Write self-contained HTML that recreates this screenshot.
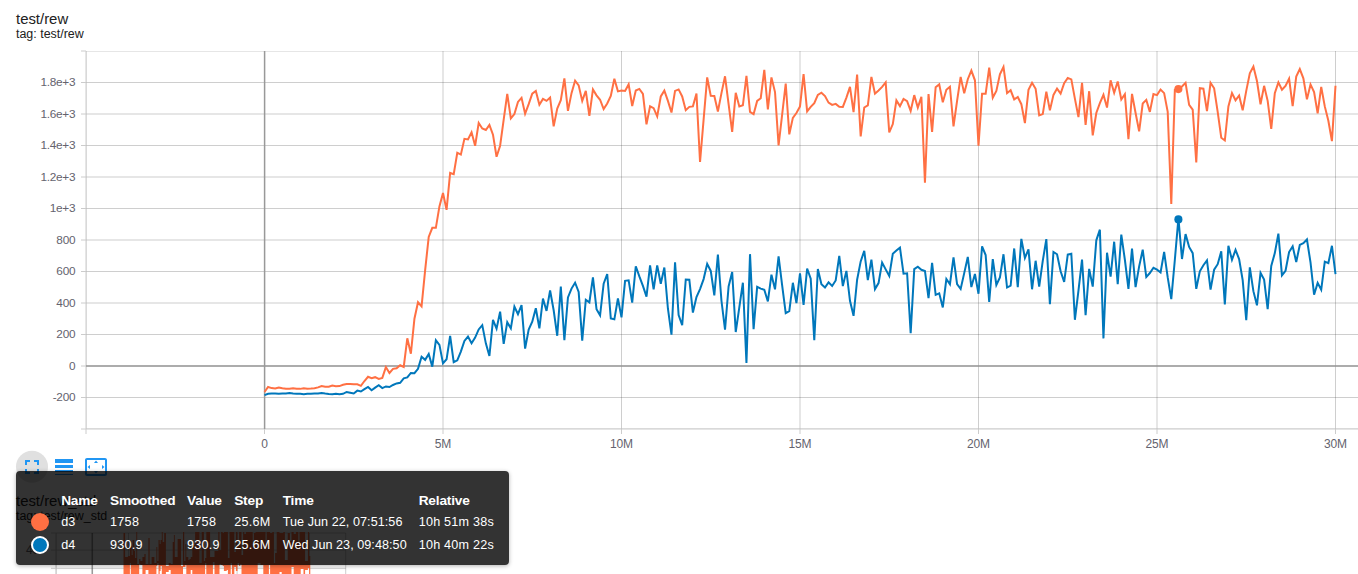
<!DOCTYPE html>
<html><head><meta charset="utf-8"><title>TensorBoard</title>
<style>
html,body{margin:0;padding:0;background:#fff;}
body{width:1358px;height:574px;overflow:hidden;position:relative;font-family:"Liberation Sans",sans-serif;}
.abs{position:absolute;}
.title{position:absolute;left:16px;font-size:14.9px;color:#212121;line-height:18px;white-space:nowrap;}
.tag{position:absolute;left:16px;font-size:12.45px;color:#212121;line-height:14px;white-space:nowrap;}
.yl{position:absolute;left:0;width:75.3px;text-align:right;font-size:11.8px;line-height:16px;color:#64636e;white-space:nowrap;letter-spacing:-0.25px;}
.xl{position:absolute;top:436px;width:60px;text-align:center;font-size:12px;line-height:16px;color:#64636e;white-space:nowrap;letter-spacing:-0.1px;}
svg{position:absolute;left:0;top:0;}
#tip{position:absolute;left:16px;top:471px;width:492.5px;height:93.5px;background:rgba(0,0,0,0.8);border-radius:4px;box-shadow:0 1px 4px rgba(0,0,0,0.3);color:#fff;}
#tip div{position:absolute;white-space:nowrap;line-height:16px;}
#tip .h{font-weight:bold;font-size:13.7px;letter-spacing:-0.2px;top:21.5px;}
#tip .r1{font-size:12.6px;top:42.5px;}
#tip .r2{font-size:12.6px;top:65.8px;}
.sw{position:absolute;width:18px;height:18px;border-radius:50%;box-sizing:border-box;}
</style></head><body>
<div class="title" style="top:9.6px">test/rew</div>
<div class="tag" style="top:26.7px">tag: test/rew</div>
<div class="yl" style="top:74.0px">1.8e+3</div>
<div class="yl" style="top:105.5px">1.6e+3</div>
<div class="yl" style="top:137.0px">1.4e+3</div>
<div class="yl" style="top:168.5px">1.2e+3</div>
<div class="yl" style="top:200.0px">1e+3</div>
<div class="yl" style="top:231.5px">800</div>
<div class="yl" style="top:263.0px">600</div>
<div class="yl" style="top:294.5px">400</div>
<div class="yl" style="top:326.0px">200</div>
<div class="yl" style="top:357.5px">0</div>
<div class="yl" style="top:389.0px">-200</div>
<div class="xl" style="left:234.5px">0</div>
<div class="xl" style="left:413.0px">5M</div>
<div class="xl" style="left:591.5px">10M</div>
<div class="xl" style="left:770.0px">15M</div>
<div class="xl" style="left:948.5px">20M</div>
<div class="xl" style="left:1127.0px">25M</div>
<div class="xl" style="left:1305.5px">30M</div>
<svg width="1358" height="574" viewBox="0 0 1358 574">
<defs><clipPath id="c1"><rect x="86" y="51" width="1272" height="378"/></clipPath>
<clipPath id="c2"><rect x="51" y="532" width="296" height="42"/></clipPath></defs>
<line x1="81" x2="86" y1="429.00" y2="429.00" stroke="#cccccc" stroke-width="1"/>
<line x1="81" x2="86" y1="397.50" y2="397.50" stroke="#cccccc" stroke-width="1"/>
<line x1="81" x2="86" y1="366.00" y2="366.00" stroke="#cccccc" stroke-width="1"/>
<line x1="81" x2="86" y1="334.50" y2="334.50" stroke="#cccccc" stroke-width="1"/>
<line x1="81" x2="86" y1="303.00" y2="303.00" stroke="#cccccc" stroke-width="1"/>
<line x1="81" x2="86" y1="271.50" y2="271.50" stroke="#cccccc" stroke-width="1"/>
<line x1="81" x2="86" y1="240.00" y2="240.00" stroke="#cccccc" stroke-width="1"/>
<line x1="81" x2="86" y1="208.50" y2="208.50" stroke="#cccccc" stroke-width="1"/>
<line x1="81" x2="86" y1="177.00" y2="177.00" stroke="#cccccc" stroke-width="1"/>
<line x1="81" x2="86" y1="145.50" y2="145.50" stroke="#cccccc" stroke-width="1"/>
<line x1="81" x2="86" y1="114.00" y2="114.00" stroke="#cccccc" stroke-width="1"/>
<line x1="81" x2="86" y1="82.50" y2="82.50" stroke="#cccccc" stroke-width="1"/>
<line x1="81" x2="86" y1="51.00" y2="51.00" stroke="#cccccc" stroke-width="1"/>
<line x1="86.00" x2="86.00" y1="429" y2="434" stroke="#cccccc" stroke-width="1"/>
<line x1="264.50" x2="264.50" y1="429" y2="434" stroke="#cccccc" stroke-width="1"/>
<line x1="443.00" x2="443.00" y1="429" y2="434" stroke="#cccccc" stroke-width="1"/>
<line x1="621.50" x2="621.50" y1="429" y2="434" stroke="#cccccc" stroke-width="1"/>
<line x1="800.00" x2="800.00" y1="429" y2="434" stroke="#cccccc" stroke-width="1"/>
<line x1="978.50" x2="978.50" y1="429" y2="434" stroke="#cccccc" stroke-width="1"/>
<line x1="1157.00" x2="1157.00" y1="429" y2="434" stroke="#cccccc" stroke-width="1"/>
<line x1="1335.50" x2="1335.50" y1="429" y2="434" stroke="#cccccc" stroke-width="1"/>
<g clip-path="url(#c1)"><line x1="86" x2="1358" y1="429.00" y2="429.00" stroke="#3c3c3c" stroke-opacity="0.25" stroke-width="1"/><line x1="86" x2="1358" y1="397.50" y2="397.50" stroke="#3c3c3c" stroke-opacity="0.25" stroke-width="1"/><line x1="86" x2="1358" y1="366.00" y2="366.00" stroke="#3c3c3c" stroke-opacity="0.25" stroke-width="1"/><line x1="86" x2="1358" y1="334.50" y2="334.50" stroke="#3c3c3c" stroke-opacity="0.25" stroke-width="1"/><line x1="86" x2="1358" y1="303.00" y2="303.00" stroke="#3c3c3c" stroke-opacity="0.25" stroke-width="1"/><line x1="86" x2="1358" y1="271.50" y2="271.50" stroke="#3c3c3c" stroke-opacity="0.25" stroke-width="1"/><line x1="86" x2="1358" y1="240.00" y2="240.00" stroke="#3c3c3c" stroke-opacity="0.25" stroke-width="1"/><line x1="86" x2="1358" y1="208.50" y2="208.50" stroke="#3c3c3c" stroke-opacity="0.25" stroke-width="1"/><line x1="86" x2="1358" y1="177.00" y2="177.00" stroke="#3c3c3c" stroke-opacity="0.25" stroke-width="1"/><line x1="86" x2="1358" y1="145.50" y2="145.50" stroke="#3c3c3c" stroke-opacity="0.25" stroke-width="1"/><line x1="86" x2="1358" y1="114.00" y2="114.00" stroke="#3c3c3c" stroke-opacity="0.25" stroke-width="1"/><line x1="86" x2="1358" y1="82.50" y2="82.50" stroke="#3c3c3c" stroke-opacity="0.25" stroke-width="1"/><line x1="86" x2="1358" y1="51.00" y2="51.00" stroke="#3c3c3c" stroke-opacity="0.25" stroke-width="1"/><line x1="86.00" x2="86.00" y1="51" y2="429" stroke="#3c3c3c" stroke-opacity="0.25" stroke-width="1"/><line x1="264.50" x2="264.50" y1="51" y2="429" stroke="#3c3c3c" stroke-opacity="0.25" stroke-width="1"/><line x1="443.00" x2="443.00" y1="51" y2="429" stroke="#3c3c3c" stroke-opacity="0.25" stroke-width="1"/><line x1="621.50" x2="621.50" y1="51" y2="429" stroke="#3c3c3c" stroke-opacity="0.25" stroke-width="1"/><line x1="800.00" x2="800.00" y1="51" y2="429" stroke="#3c3c3c" stroke-opacity="0.25" stroke-width="1"/><line x1="978.50" x2="978.50" y1="51" y2="429" stroke="#3c3c3c" stroke-opacity="0.25" stroke-width="1"/><line x1="1157.00" x2="1157.00" y1="51" y2="429" stroke="#3c3c3c" stroke-opacity="0.25" stroke-width="1"/><line x1="1335.50" x2="1335.50" y1="51" y2="429" stroke="#3c3c3c" stroke-opacity="0.25" stroke-width="1"/></g>
<line x1="86" x2="86" y1="51" y2="429" stroke="#cccccc" stroke-width="1"/>
<line x1="86" x2="1358" y1="429" y2="429" stroke="#cccccc" stroke-width="1"/>
<line x1="86" x2="1358" y1="366.00" y2="366.00" stroke="#999999" stroke-width="1.5"/>
<line x1="264.60" x2="264.60" y1="51" y2="429" stroke="#999999" stroke-width="1.5"/>
<path d="M264.50,395.15 L268.07,393.82 L271.64,393.60 L275.21,393.48 L278.78,393.72 L282.35,393.60 L285.92,393.60 L289.49,393.05 L293.06,393.60 L296.63,393.82 L300.20,393.82 L303.77,394.16 L307.34,393.82 L310.91,393.82 L314.48,393.60 L318.05,393.60 L321.62,393.05 L325.19,393.60 L328.76,394.04 L332.33,394.16 L335.90,393.70 L339.47,394.16 L343.04,393.82 L346.61,391.96 L350.18,392.72 L353.75,393.46 L357.32,390.65 L360.89,391.47 L364.46,389.18 L368.03,386.99 L371.60,390.25 L375.17,387.64 L378.74,385.22 L382.31,388.11 L385.88,386.43 L389.45,387.06 L393.02,384.99 L396.59,383.44 L400.16,382.78 L403.73,378.36 L407.30,377.48 L410.87,372.96 L414.44,373.16 L418.01,368.86 L421.58,356.79 L425.15,359.86 L428.72,353.89 L432.29,366.61 L435.86,340.32 L439.43,344.93 L443.00,363.38 L446.57,359.28 L450.14,335.99 L453.71,362.21 L457.28,360.39 L460.85,351.55 L464.42,340.95 L467.99,336.62 L471.56,343.19 L475.13,337.64 L478.70,329.46 L482.27,325.17 L485.84,343.38 L489.41,356.02 L492.98,319.97 L496.55,328.71 L500.12,311.71 L503.69,343.92 L507.26,322.21 L510.83,328.32 L514.40,306.55 L517.97,314.16 L521.54,305.16 L525.11,348.57 L528.68,329.46 L532.25,321.73 L535.82,308.24 L539.39,328.45 L542.96,298.50 L546.53,310.93 L550.10,290.53 L553.67,310.25 L557.24,335.78 L560.81,286.66 L564.38,340.23 L567.95,297.43 L571.52,288.60 L575.09,282.75 L578.66,291.91 L582.23,340.67 L585.80,299.78 L589.37,302.42 L592.94,277.45 L596.51,309.14 L600.08,315.37 L603.65,283.74 L607.22,273.99 L610.79,318.42 L614.36,319.30 L617.93,298.48 L621.50,317.41 L625.07,280.87 L628.64,280.37 L632.21,302.62 L635.78,266.27 L639.35,276.45 L642.92,285.95 L646.49,296.57 L650.06,265.30 L653.63,289.35 L657.20,265.34 L660.77,283.77 L664.34,267.52 L667.91,308.48 L671.48,334.69 L675.05,262.35 L678.62,315.10 L682.19,325.29 L685.76,279.46 L689.33,279.76 L692.90,312.52 L696.47,296.99 L700.04,289.04 L703.61,279.10 L707.18,263.89 L710.75,270.93 L714.32,295.34 L717.89,254.64 L721.46,300.75 L725.03,329.60 L728.60,286.39 L732.17,271.94 L735.74,332.03 L739.31,307.37 L742.88,282.71 L746.45,363.02 L750.02,254.16 L753.59,329.19 L757.16,286.80 L760.73,288.60 L764.30,289.70 L767.87,301.44 L771.44,274.62 L775.01,289.33 L778.58,256.45 L782.15,285.28 L785.72,313.13 L789.29,311.13 L792.86,282.77 L796.43,303.04 L800.00,273.46 L803.57,304.85 L807.14,268.48 L810.71,278.66 L814.28,340.25 L817.85,269.06 L821.42,284.18 L824.99,287.54 L828.56,282.38 L832.13,285.97 L835.70,280.42 L839.27,255.80 L842.84,286.01 L846.41,270.86 L849.98,300.75 L853.55,315.84 L857.12,279.76 L860.69,261.43 L864.26,250.81 L867.83,280.07 L871.40,259.57 L874.97,289.13 L878.54,283.07 L882.11,262.65 L885.68,269.38 L889.25,275.89 L892.82,253.70 L896.39,250.60 L899.96,247.67 L903.53,273.65 L907.10,273.29 L910.67,333.17 L914.24,269.16 L917.81,266.75 L921.38,269.82 L924.95,270.93 L928.52,298.21 L932.09,262.85 L935.66,294.87 L939.23,293.33 L942.80,307.42 L946.37,279.04 L949.94,284.24 L953.51,257.34 L957.08,284.18 L960.65,288.88 L964.22,273.13 L967.79,256.94 L971.36,287.10 L974.93,274.00 L978.50,293.79 L982.07,246.40 L985.64,255.02 L989.21,302.01 L992.78,259.09 L996.35,284.96 L999.92,277.55 L1003.49,254.25 L1007.06,287.53 L1010.63,285.73 L1014.20,248.47 L1017.77,287.21 L1021.34,238.83 L1024.91,257.96 L1028.48,249.28 L1032.05,289.27 L1035.62,260.76 L1039.19,286.59 L1042.76,260.87 L1046.33,239.09 L1049.90,304.12 L1053.47,251.90 L1057.04,254.24 L1060.61,271.25 L1064.18,281.86 L1067.75,254.68 L1071.32,253.82 L1074.89,319.77 L1078.46,290.69 L1082.03,259.61 L1085.60,315.15 L1089.17,268.94 L1092.74,286.59 L1096.31,240.32 L1099.88,229.66 L1103.45,338.38 L1107.02,252.77 L1110.59,276.67 L1114.16,241.72 L1117.73,284.22 L1121.30,234.67 L1124.87,259.76 L1128.44,288.83 L1132.01,248.57 L1135.58,287.04 L1139.15,266.39 L1142.72,249.75 L1146.29,277.05 L1149.86,273.02 L1153.43,267.76 L1157.00,269.70 L1160.57,272.47 L1164.14,251.95 L1167.71,277.43 L1171.28,299.19 L1174.85,259.76 L1178.42,218.39 L1181.99,259.01 L1185.56,234.11 L1189.13,246.95 L1192.70,253.13 L1196.27,288.79 L1199.84,271.25 L1203.41,265.28 L1206.98,260.33 L1210.55,289.67 L1214.12,269.70 L1217.69,264.18 L1221.26,251.30 L1224.83,304.34 L1228.40,245.76 L1231.97,259.87 L1235.54,249.85 L1239.11,259.10 L1242.68,280.08 L1246.25,320.22 L1249.82,267.37 L1253.39,291.13 L1256.96,305.32 L1260.53,272.86 L1264.10,279.64 L1267.67,309.16 L1271.24,265.95 L1274.81,253.13 L1278.38,233.59 L1281.95,275.35 L1285.52,270.81 L1289.09,252.03 L1292.66,246.36 L1296.23,262.00 L1299.80,244.96 L1303.37,243.19 L1306.94,239.51 L1310.51,262.41 L1314.08,294.70 L1317.65,282.86 L1321.22,289.76 L1324.79,261.65 L1328.36,263.20 L1331.93,245.76 L1335.50,274.10" fill="none" stroke="#0077bb" stroke-width="2" stroke-linejoin="miter" stroke-miterlimit="4"/>
<path d="M264.50,392.05 L268.07,386.95 L271.64,388.08 L275.21,388.41 L278.78,387.53 L282.35,388.30 L285.92,388.86 L289.49,388.74 L293.06,388.19 L296.63,388.74 L300.20,388.86 L303.77,388.19 L307.34,388.64 L310.91,388.52 L314.48,388.30 L318.05,387.42 L321.62,385.99 L325.19,386.75 L328.76,386.75 L332.33,385.55 L335.90,386.21 L339.47,386.09 L343.04,384.76 L346.61,384.10 L350.18,383.98 L353.75,384.32 L357.32,384.32 L360.89,385.86 L364.46,381.01 L368.03,376.80 L371.60,378.23 L375.17,377.17 L378.74,378.89 L382.31,377.92 L385.88,367.07 L389.45,373.01 L393.02,368.86 L396.59,368.20 L400.16,365.29 L403.73,366.94 L407.30,338.32 L410.87,353.70 L414.44,318.72 L418.01,302.23 L421.58,306.35 L425.15,270.07 L428.72,236.93 L432.29,227.87 L435.86,227.87 L439.43,206.45 L443.00,192.97 L446.57,209.85 L450.14,172.94 L453.71,174.14 L457.28,152.72 L460.85,154.62 L464.42,138.81 L467.99,139.37 L471.56,132.23 L475.13,145.74 L478.70,122.92 L482.27,128.48 L485.84,130.02 L489.41,124.81 L492.98,134.66 L496.55,156.76 L500.12,145.71 L503.69,119.64 L507.26,93.92 L510.83,118.36 L514.40,114.12 L517.97,101.97 L521.54,97.84 L525.11,113.74 L528.68,104.18 L532.25,93.58 L535.82,90.95 L539.39,104.78 L542.96,98.94 L546.53,100.87 L550.10,97.57 L553.67,126.35 L557.24,108.60 L560.81,100.20 L564.38,78.46 L567.95,110.89 L571.52,93.13 L575.09,80.65 L578.66,85.40 L582.23,100.91 L585.80,90.93 L589.37,115.98 L592.94,89.44 L596.51,95.34 L600.08,99.76 L603.65,109.15 L607.22,103.52 L610.79,96.01 L614.36,78.78 L617.93,91.39 L621.50,90.59 L625.07,91.01 L628.64,84.41 L632.21,105.99 L635.78,90.48 L639.35,88.95 L642.92,93.80 L646.49,124.36 L650.06,106.32 L653.63,108.16 L657.20,116.42 L660.77,96.45 L664.34,90.64 L667.91,100.87 L671.48,112.58 L675.05,90.93 L678.62,89.42 L682.19,96.45 L685.76,110.22 L689.33,106.83 L692.90,106.39 L696.47,93.50 L700.04,162.00 L703.61,119.64 L707.18,77.35 L710.75,95.79 L714.32,96.01 L717.89,111.50 L721.46,93.13 L725.03,76.28 L728.60,104.18 L732.17,131.92 L735.74,92.85 L739.31,106.56 L742.88,105.28 L746.45,75.78 L750.02,111.91 L753.59,114.15 L757.16,100.87 L760.73,98.22 L764.30,69.81 L767.87,109.40 L771.44,77.38 L775.01,92.03 L778.58,145.41 L782.15,114.56 L785.72,83.49 L789.29,134.32 L792.86,117.87 L796.43,113.02 L800.00,106.39 L803.57,74.00 L807.14,111.38 L810.71,106.83 L814.28,103.07 L817.85,94.90 L821.42,92.71 L824.99,96.01 L828.56,102.63 L832.13,104.91 L835.70,103.90 L839.27,106.83 L842.84,106.94 L846.41,97.55 L849.98,86.94 L853.55,112.03 L857.12,74.64 L860.69,136.36 L864.26,107.49 L867.83,105.28 L871.40,76.94 L874.97,93.65 L878.54,90.48 L882.11,86.95 L885.68,82.43 L889.25,132.46 L892.82,124.06 L896.39,100.43 L899.96,106.15 L903.53,98.98 L907.10,101.09 L910.67,110.86 L914.24,95.14 L917.81,107.62 L921.38,96.83 L924.95,182.76 L928.52,94.07 L932.09,131.94 L935.66,87.17 L939.23,84.39 L942.80,102.19 L946.37,89.82 L949.94,86.74 L953.51,126.40 L957.08,100.87 L960.65,76.95 L964.22,93.36 L967.79,79.22 L971.36,70.57 L974.93,80.32 L978.50,145.59 L982.07,93.80 L985.64,93.80 L989.21,67.62 L992.78,97.73 L996.35,90.93 L999.92,74.36 L1003.49,66.96 L1007.06,93.20 L1010.63,90.27 L1014.20,99.38 L1017.77,97.02 L1021.34,104.18 L1024.91,123.04 L1028.48,89.82 L1032.05,82.78 L1035.62,88.72 L1039.19,115.38 L1042.76,114.12 L1046.33,91.74 L1049.90,110.39 L1053.47,94.90 L1057.04,88.61 L1060.61,93.51 L1064.18,83.19 L1067.75,77.91 L1071.32,79.44 L1074.89,98.66 L1078.46,117.08 L1082.03,82.83 L1085.60,124.86 L1089.17,91.22 L1092.74,135.44 L1096.31,113.02 L1099.88,103.07 L1103.45,94.78 L1107.02,107.53 L1110.59,80.29 L1114.16,92.78 L1117.73,81.44 L1121.30,99.48 L1124.87,94.27 L1128.44,139.24 L1132.01,93.91 L1135.58,113.02 L1139.15,131.43 L1142.72,103.52 L1146.29,99.92 L1149.86,111.91 L1153.43,94.05 L1157.00,95.14 L1160.57,89.58 L1164.14,93.13 L1167.71,111.91 L1171.28,203.96 L1174.85,89.82 L1178.42,88.94 L1181.99,86.51 L1185.56,82.81 L1189.13,104.84 L1192.70,109.70 L1196.27,162.34 L1199.84,88.23 L1203.41,88.72 L1206.98,111.12 L1210.55,82.76 L1214.12,88.27 L1217.69,111.91 L1221.26,137.76 L1224.83,140.49 L1228.40,106.39 L1231.97,93.12 L1235.54,100.28 L1239.11,95.50 L1242.68,110.39 L1246.25,90.93 L1249.82,73.25 L1253.39,66.59 L1256.96,80.99 L1260.53,104.25 L1264.10,85.82 L1267.67,100.87 L1271.24,128.83 L1274.81,93.13 L1278.38,82.43 L1281.95,89.74 L1285.52,85.84 L1289.09,78.65 L1292.66,106.06 L1296.23,76.57 L1299.80,69.11 L1303.37,78.33 L1306.94,99.36 L1310.51,84.40 L1314.08,92.03 L1317.65,113.32 L1321.22,86.87 L1324.79,106.39 L1328.36,120.75 L1331.93,141.18 L1335.50,85.70" fill="none" stroke="#ff7043" stroke-width="2" stroke-linejoin="miter" stroke-miterlimit="4"/>
<circle cx="1178.4" cy="89.1" r="4.05" fill="#ff7043"/>
<circle cx="1178.4" cy="219.4" r="4.05" fill="#0077bb"/>
<g clip-path="url(#c2)">
<line x1="56.1" x2="56.1" y1="533" y2="574" stroke="#3c3c3c" stroke-opacity="0.25" stroke-width="1"/>
<line x1="92.3" x2="92.3" y1="533" y2="574" stroke="#3c3c3c" stroke-opacity="0.25" stroke-width="1"/>
<line x1="92.3" x2="92.3" y1="533" y2="574" stroke="#999999" stroke-width="1.5"/>
<line x1="128.5" x2="128.5" y1="533" y2="574" stroke="#3c3c3c" stroke-opacity="0.25" stroke-width="1"/>
<line x1="164.7" x2="164.7" y1="533" y2="574" stroke="#3c3c3c" stroke-opacity="0.25" stroke-width="1"/>
<line x1="200.9" x2="200.9" y1="533" y2="574" stroke="#3c3c3c" stroke-opacity="0.25" stroke-width="1"/>
<line x1="237.1" x2="237.1" y1="533" y2="574" stroke="#3c3c3c" stroke-opacity="0.25" stroke-width="1"/>
<line x1="273.3" x2="273.3" y1="533" y2="574" stroke="#3c3c3c" stroke-opacity="0.25" stroke-width="1"/>
<line x1="309.5" x2="309.5" y1="533" y2="574" stroke="#3c3c3c" stroke-opacity="0.25" stroke-width="1"/>
<line x1="345.7" x2="345.7" y1="533" y2="574" stroke="#3c3c3c" stroke-opacity="0.25" stroke-width="1"/>
<line x1="56.1" x2="345.7" y1="533.0" y2="533.0" stroke="#3c3c3c" stroke-opacity="0.25" stroke-width="1"/>
<line x1="51" x2="56.1" y1="533.0" y2="533.0" stroke="#cccccc" stroke-width="1"/>
<line x1="56.1" x2="345.7" y1="550.1" y2="550.1" stroke="#3c3c3c" stroke-opacity="0.25" stroke-width="1"/>
<line x1="51" x2="56.1" y1="550.1" y2="550.1" stroke="#cccccc" stroke-width="1"/>
<line x1="56.1" x2="345.7" y1="568.3" y2="568.3" stroke="#3c3c3c" stroke-opacity="0.25" stroke-width="1"/>
<line x1="51" x2="56.1" y1="568.3" y2="568.3" stroke="#cccccc" stroke-width="1"/>
<line x1="56.1" x2="56.1" y1="533" y2="574" stroke="#cccccc" stroke-width="1"/>
<path d="M123.5,533h1.6V580h-1.6zM125.1,557h2.8V580h-2.8zM127.9,556h2.0V580h-2.0zM129.9,544h0.9V563h-0.9zM130.8,546h0.9V580h-0.9zM131.7,555h0.9V580h-0.9zM132.6,540h1.6V580h-1.6zM134.2,551h0.9V580h-0.9zM135.1,558h1.2V580h-1.2zM136.3,531h0.9V580h-0.9zM137.2,564h2.0V580h-2.0zM139.2,559h1.2V564h-1.2zM140.4,561h2.0V565h-2.0zM142.4,557h2.0V580h-2.0zM144.4,554h1.2V580h-1.2zM145.6,564h2.8V570h-2.8zM148.4,538h1.2V580h-1.2zM149.6,564h2.0V580h-2.0zM151.6,557h2.8V580h-2.8zM154.4,563h2.0V580h-2.0zM156.4,547h0.9V566h-0.9zM157.3,561h1.2V563h-1.2zM158.5,540h1.2V580h-1.2zM159.7,544h0.9V571h-0.9zM160.6,540h1.2V566h-1.2zM161.8,531h0.9V580h-0.9zM162.7,542h1.6V580h-1.6zM164.3,533h1.6V580h-1.6zM165.9,566h2.8V572h-2.8zM168.7,563h2.0V570h-2.0zM170.7,564h2.0V580h-2.0zM172.7,542h1.2V580h-1.2zM173.9,535h0.9V580h-0.9zM174.8,557h2.8V580h-2.8zM177.6,539h0.9V580h-0.9zM178.5,539h1.6V580h-1.6zM180.1,539h0.9V580h-0.9zM181.0,566h2.0V580h-2.0zM183.0,532h1.2V567h-1.2zM184.2,561h1.2V567h-1.2zM185.4,544h0.9V565h-0.9zM186.3,557h2.0V580h-2.0zM188.3,560h1.2V580h-1.2zM189.5,559h1.2V580h-1.2zM190.7,557h1.6V570h-1.6zM192.3,545h2.8V580h-2.8zM195.1,526h2.2V580h-2.2zM197.3,531h2.2V580h-2.2zM199.5,563h2.2V580h-2.2zM201.7,530h2.2V580h-2.2zM203.9,561h1.2V580h-1.2zM205.1,558h1.2V563h-1.2zM206.3,532h1.6V580h-1.6zM207.9,532h2.2V580h-2.2zM210.1,557h2.8V580h-2.8zM212.9,557h1.6V562h-1.6zM214.5,551h1.6V580h-1.6zM216.1,551h2.2V580h-2.2zM218.3,526h1.2V580h-1.2zM219.5,550h1.6V564h-1.6zM221.1,528h1.6V565h-1.6zM222.7,533h1.2V566h-1.2zM223.9,531h2.8V571h-2.8zM226.7,527h1.2V570h-1.2zM227.9,558h1.6V580h-1.6zM229.5,532h1.2V580h-1.2zM230.7,530h1.2V563h-1.2zM231.9,526h1.2V580h-1.2zM233.1,532h1.2V580h-1.2zM234.3,552h1.6V567h-1.6zM235.9,530h1.6V571h-1.6zM237.5,546h1.6V563h-1.6zM239.1,530h1.2V566h-1.2zM240.3,528h1.2V564h-1.2zM241.5,555h1.6V580h-1.6zM243.1,530h1.2V580h-1.2zM244.3,534h1.6V580h-1.6zM245.9,530h2.2V580h-2.2zM248.1,527h2.2V580h-2.2zM250.3,530h1.2V580h-1.2zM251.5,528h1.2V580h-1.2zM252.7,545h1.2V580h-1.2zM253.9,533h1.6V580h-1.6zM255.5,529h2.2V580h-2.2zM257.7,530h2.8V563h-2.8zM260.5,532h2.8V565h-2.8zM263.3,527h2.2V580h-2.2zM265.5,542h1.2V580h-1.2zM266.7,530h2.2V580h-2.2zM268.9,532h1.2V565h-1.2zM270.1,533h2.2V580h-2.2zM272.3,530h1.6V580h-1.6zM273.9,563h1.2V580h-1.2zM275.1,553h1.6V580h-1.6zM276.7,530h2.8V580h-2.8zM279.5,533h2.2V572h-2.2zM281.7,533h1.6V580h-1.6zM283.3,526h1.6V580h-1.6zM284.9,560h2.8V580h-2.8zM287.7,533h2.2V580h-2.2zM289.9,541h1.6V580h-1.6zM291.5,528h2.2V567h-2.2zM293.7,534h2.2V580h-2.2zM295.9,529h1.2V580h-1.2zM297.1,528h1.2V580h-1.2zM298.3,543h1.2V580h-1.2zM299.5,531h1.2V580h-1.2zM300.7,532h2.8V569h-2.8zM303.5,528h1.6V580h-1.6zM305.1,561h2.8V570h-2.8zM307.9,530h1.2V568h-1.2zM309.1,556h1.2V580h-1.2z" fill="#ff7043"/>
</g>
<!-- icon buttons -->
<circle cx="32" cy="466.7" r="16" fill="#e0e0e0"/>
<g fill="#2196f3">
<path transform="translate(20,455)" d="M7 14H5v5h5v-2H7v-3zm-2-4h2V7h3V5H5v5zm12 7h-3v2h5v-5h-2v3zM14 5v2h3v3h2V5h-5z"/>
<path transform="translate(52,455)" d="M3 17h18v-2H3v2zm0 3h18v-1H3v1zm0-7h18v-3H3v3zm0-9v4h18V4H3z"/>
<path transform="translate(84,455)" d="M12.01 5.5L10 8h4l-1.99-2.5zM18 10v4l2.5-1.99L18 10zM6 10l-2.5 2.01L6 14v-4zm8 6h-4l2.01 2.5L14 16zm7-13H3c-1.100 0-2 .9-2 2v14c0 1.100.9 2 2 2h18c1.100 0 2-.9 2-2V5c0-1.100-.9-2-2-2zm0 16.010H3V4.990h18v14.020z"/>
</g>
</svg>
<div class="title" style="top:491.6px">test/rew_std</div>
<div class="tag" style="top:508.7px">tag: test/rew_std</div>
<div class="yl" style="top:541.6px;width:45.2px;font-size:12px">400</div>
<div id="tip">
<div class="h" style="left:45.2px">Name</div>
<div class="h" style="left:94px">Smoothed</div>
<div class="h" style="left:171px">Value</div>
<div class="h" style="left:218.2px">Step</div>
<div class="h" style="left:266.7px">Time</div>
<div class="h" style="left:402.7px">Relative</div>
<span class="sw" style="left:15px;top:42px;background:#ff7043"></span>
<span class="sw" style="left:15px;top:64.5px;background:#0077bb;border:2px solid #fff"></span>
<div class="r1" style="left:45.2px;letter-spacing:0.1px">d3</div>
<div class="r1" style="left:94px;letter-spacing:0.3px">1758</div>
<div class="r1" style="left:171px;letter-spacing:0.3px">1758</div>
<div class="r1" style="left:218.2px;letter-spacing:0.25px">25.6M</div>
<div class="r1" style="left:266.7px;letter-spacing:0.06px">Tue Jun 22, 07:51:56</div>
<div class="r1" style="left:402.7px;letter-spacing:0.23px">10h 51m 38s</div>
<div class="r2" style="left:45.2px;letter-spacing:0.1px">d4</div>
<div class="r2" style="left:94px;letter-spacing:0.25px">930.9</div>
<div class="r2" style="left:171px;letter-spacing:0.25px">930.9</div>
<div class="r2" style="left:218.2px;letter-spacing:0.25px">25.6M</div>
<div class="r2" style="left:266.7px;letter-spacing:0.05px">Wed Jun 23, 09:48:50</div>
<div class="r2" style="left:402.7px;letter-spacing:0.23px">10h 40m 22s</div>
</div>
</body></html>
